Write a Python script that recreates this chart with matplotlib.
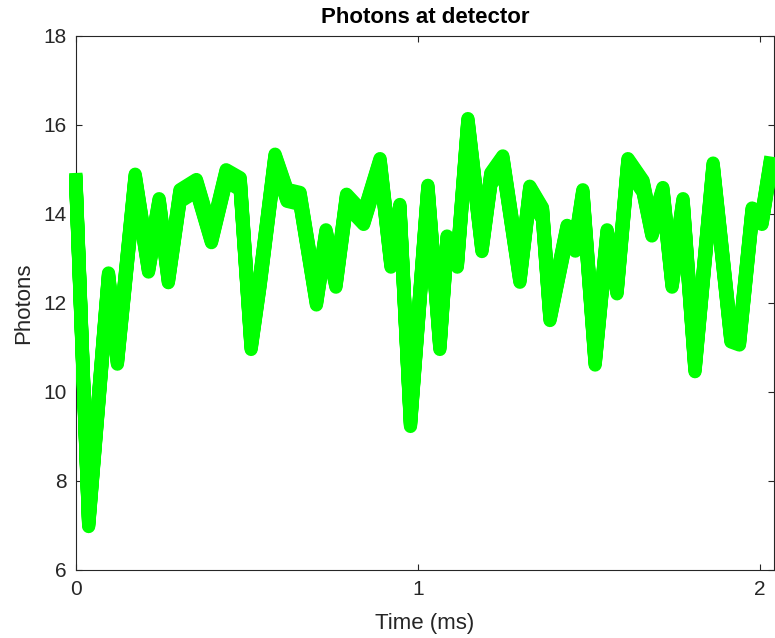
import matplotlib
matplotlib.use("Agg")
import matplotlib.pyplot as plt
from matplotlib.transforms import offset_copy

# ---------------------------------------------------------------------
# Data (centre of the trace)
# ---------------------------------------------------------------------

time_ms = [
    0.000, 0.037, 0.095, 0.121, 0.173, 0.212, 0.243, 0.270, 0.304, 0.352,
    0.396, 0.439, 0.480, 0.512, 0.538, 0.582, 0.617, 0.655, 0.703, 0.731,
    0.760, 0.791, 0.841, 0.889, 0.921, 0.947, 0.978, 1.029, 1.064, 1.085,
    1.115, 1.146, 1.187, 1.213, 1.248, 1.298, 1.327, 1.364, 1.386, 1.436,
    1.460, 1.482, 1.518, 1.553, 1.582, 1.614, 1.658, 1.684, 1.716, 1.743,
    1.775, 1.810, 1.863, 1.915, 1.940, 1.977, 2.006, 2.029,
]
photons = [
    14.64, 7.11, 12.54, 10.76, 14.76, 12.83, 14.21, 12.59, 14.41, 14.64,
    13.49, 14.86, 14.68, 11.09, 12.50, 15.21, 14.42, 14.35, 12.09, 13.51,
    12.49, 14.31, 13.90, 15.11, 12.94, 14.08, 9.36, 14.51, 11.09, 13.37,
    12.94, 16.01, 13.29, 14.79, 15.17, 12.60, 14.49, 14.01, 11.74, 13.61,
    13.30, 14.41, 10.74, 13.51, 12.34, 15.11, 14.62, 13.64, 14.46, 12.49,
    14.21, 10.59, 15.01, 11.26, 11.19, 14.00, 13.90, 15.01,
]

x_ticks = [0, 1, 2]
y_ticks = [6, 8, 10, 12, 14, 16, 18]

# ---------------------------------------------------------------------
# Figure
# ---------------------------------------------------------------------

plt.rcParams["font.family"] = ["Liberation Sans", "DejaVu Sans"]
axis_grey = "#262626"

fig = plt.figure(figsize=(7.75, 6.38), dpi=100)
ax = fig.add_axes([0.0981, 0.1066, 0.9006, 0.8370])

# the measured trace is a noisy band: sweep a round pen up and down
# a few pixels so flat parts come out taller than steep parts are wide
for dy in range(-6, 7):
    ax.plot(time_ms, photons, color="#00ff00", linewidth=9.5,
            solid_joinstyle="round", solid_capstyle="projecting",
            transform=offset_copy(ax.transData, fig=fig, x=0, y=dy, units="dots"),
            clip_on=False, zorder=3)

ax.set_xlim(0, 2.041)
ax.set_ylim(6, 18)
ax.set_xticks(x_ticks)
ax.set_yticks(y_ticks)

ax.tick_params(direction="in", length=4.5, width=0.8, colors=axis_grey,
               labelsize=15, top=True, right=True, pad=7)
for spine in ax.spines.values():
    spine.set_color(axis_grey)
    spine.set_linewidth(0.8)

ax.set_title("Photons at detector", fontsize=16, fontweight="bold", pad=9)
ax.set_xlabel("Time (ms)", fontsize=16, color=axis_grey, labelpad=10)
ax.set_ylabel("Photons", fontsize=16, color=axis_grey, labelpad=6)

fig.savefig("out.png", dpi=100)
